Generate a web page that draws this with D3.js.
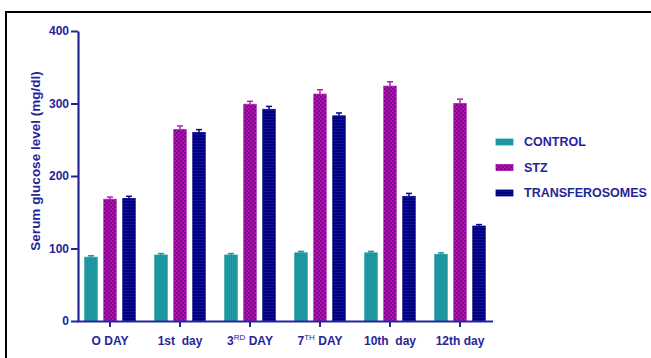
<!DOCTYPE html>
<html>
<head>
<meta charset="utf-8">
<script src="https://cdn.jsdelivr.net/npm/d3@7"></script>
<style>
  html, body { margin: 0; padding: 0; background: #fff; }
  svg { display: block; font-family: "Liberation Sans", Arial, sans-serif; }
</style>
</head>
<body>
<svg id="chart" width="651" height="358"></svg>
<script>
// Serum glucose level (mg/dl) per group over the study days
const days = ["O DAY", "1st  day", "3RD DAY", "7TH DAY", "10th  day", "12th day"];
const groups = ["CONTROL", "STZ", "TRANSFEROSOMES"];
const control = [88, 91, 91, 94, 94, 92];
const controlErr = [2, 2, 2, 2, 2, 2];
const stz = [168, 264, 299, 313, 324, 300];
const stzErr = [3, 5, 4, 6, 6, 6];
const transferosomes = [169, 260, 292, 283, 172, 131];
const transferosomesErr = [3, 4, 4, 4, 4, 2];
const yTicks = [0, 100, 200, 300, 400];

const seriesValues = [control, stz, transferosomes];
const seriesErrors = [controlErr, stzErr, transferosomesErr];

const ink = "#25259a";
const svg = d3.select("#chart");
const defs = svg.append("defs");

// Fill patterns for the three groups
const pCtrl = defs.append("pattern").attr("id", "pat-ctrl")
  .attr("patternUnits", "userSpaceOnUse").attr("width", 2).attr("height", 2);
pCtrl.append("rect").attr("width", 2).attr("height", 2).attr("fill", "#1b939d");
pCtrl.append("rect").attr("width", 1).attr("height", 1).attr("fill", "#2aa2ab");

const pStz = defs.append("pattern").attr("id", "pat-stz")
  .attr("patternUnits", "userSpaceOnUse").attr("width", 4).attr("height", 4);
pStz.append("rect").attr("width", 4).attr("height", 4).attr("fill", "#b40fb4");
pStz.append("rect").attr("width", 2).attr("height", 2).attr("fill", "#7a0a86");
pStz.append("rect").attr("x", 2).attr("y", 2).attr("width", 2).attr("height", 2).attr("fill", "#7a0a86");

const pTr = defs.append("pattern").attr("id", "pat-tr")
  .attr("patternUnits", "userSpaceOnUse").attr("width", 3).attr("height", 3);
pTr.append("rect").attr("width", 3).attr("height", 3).attr("fill", "#00007e");
pTr.append("rect").attr("y", 2).attr("width", 3).attr("height", 1).attr("fill", "#10109a");

const fills = ["url(#pat-ctrl)", "url(#pat-stz)", "url(#pat-tr)"];
const strokes = ["#1e98a2", "#b020b8", "#0a0a8a"];
const swatch = ["#1e96a0", "#a010a8", "#00007e"];

// Outer frame
svg.append("rect").attr("x", 6).attr("y", 12).attr("width", 660).attr("height", 360)
  .attr("fill", "none").attr("stroke", "#000").attr("stroke-width", 2);

// Scales
const x0 = d3.scaleBand().domain(days).range([75, 495]).paddingInner(0).paddingOuter(0);
const x1 = d3.scaleBand().domain(groups).range([0, x0.bandwidth()])
  .paddingInner(0.342).paddingOuter(0.513);
const y = d3.scaleLinear().domain([0, 400]).range([321, 31]);

// Bars
const gBars = svg.append("g");
groups.forEach((grp, gi) => {
  const vals = seriesValues[gi];
  const errs = seriesErrors[gi];
  const g = gBars.append("g");
  g.selectAll("rect").data(days).join("rect")
    .attr("x", d => x0(d) + x1(grp))
    .attr("y", (d, i) => y(vals[i]))
    .attr("width", x1.bandwidth())
    .attr("height", (d, i) => y(0) - y(vals[i]))
    .attr("fill", fills[gi])
    .attr("stroke", strokes[gi]).attr("stroke-width", 0.8);
  // error bars (upper)
  const cx = d => x0(d) + x1(grp) + x1.bandwidth() / 2;
  g.selectAll("line.err").data(days).join("line").attr("class", "err")
    .attr("x1", cx).attr("x2", cx)
    .attr("y1", (d, i) => y(vals[i])).attr("y2", (d, i) => y(vals[i] + errs[i]))
    .attr("stroke", strokes[gi]).attr("stroke-width", 1.5);
  g.selectAll("line.cap").data(days).join("line").attr("class", "cap")
    .attr("x1", d => cx(d) - 3).attr("x2", d => cx(d) + 3)
    .attr("y1", (d, i) => y(vals[i] + errs[i])).attr("y2", (d, i) => y(vals[i] + errs[i]))
    .attr("stroke", strokes[gi]).attr("stroke-width", 1.5);
});

// Y axis
const yAxis = svg.append("g").attr("transform", "translate(78,0)")
  .call(d3.axisLeft(y).tickValues(yTicks).tickSize(7).tickSizeOuter(0).tickPadding(2));
yAxis.select(".domain").attr("stroke", ink).attr("stroke-width", 2.2);
yAxis.selectAll(".tick line").attr("stroke", ink).attr("stroke-width", 2);
yAxis.selectAll(".tick text").attr("fill", ink).attr("font-size", 12).attr("font-weight", "bold")
  .attr("font-family", "Liberation Sans, Arial, sans-serif");

// X axis
const xAxis = svg.append("g").attr("transform", "translate(0,321)")
  .call(d3.axisBottom(x0).tickSize(6).tickSizeOuter(0).tickFormat(""));
xAxis.select(".domain").attr("d", "M77,0.5H493").attr("stroke", ink).attr("stroke-width", 2.2);
xAxis.selectAll(".tick line").attr("stroke", ink).attr("stroke-width", 2);

// X tick labels with superscripts where present
const labelParts = {
  "O DAY": ["O DAY"],
  "1st  day": ["1st  day"],
  "3RD DAY": ["3", "RD", " DAY"],
  "7TH DAY": ["7", "TH", " DAY"],
  "10th  day": ["10th  day"],
  "12th day": ["12th day"]
};
xAxis.selectAll(".tick").each(function(d) {
  const t = d3.select(this).append("text")
    .attr("y", 24).attr("fill", ink).attr("font-size", 12).attr("font-weight", "bold")
    .attr("text-anchor", "middle").attr("font-family", "Liberation Sans, Arial, sans-serif")
    .style("white-space", "pre").attr("xml:space", "preserve");
  const parts = labelParts[d];
  if (parts.length === 1) {
    t.text(parts[0]);
  } else {
    t.append("tspan").text(parts[0]);
    t.append("tspan").text(parts[1]).attr("font-size", 8).attr("font-weight", "normal").attr("dy", -5);
    t.append("tspan").text(parts[2]).attr("dy", 5);
  }
});

// Y axis title
svg.append("text")
  .attr("transform", "translate(40,161) rotate(-90)")
  .attr("text-anchor", "middle")
  .attr("fill", ink).attr("font-size", 13.5).attr("font-weight", "bold")
  .text("Serum glucose level (mg/dl)");

// Legend
const legend = svg.append("g");
groups.forEach((grp, i) => {
  const ly = 142 + i * 25.5;
  legend.append("rect").attr("x", 496).attr("y", ly - 3).attr("width", 17).attr("height", 6)
    .attr("fill", fills[i]).attr("stroke", swatch[i]).attr("stroke-width", 0.8);
  legend.append("text").attr("x", 524).attr("y", ly).attr("dy", "0.35em")
    .attr("fill", ink).attr("font-size", 12.5).attr("font-weight", "bold")
    .text(grp);
});
</script>
</body>
</html>
